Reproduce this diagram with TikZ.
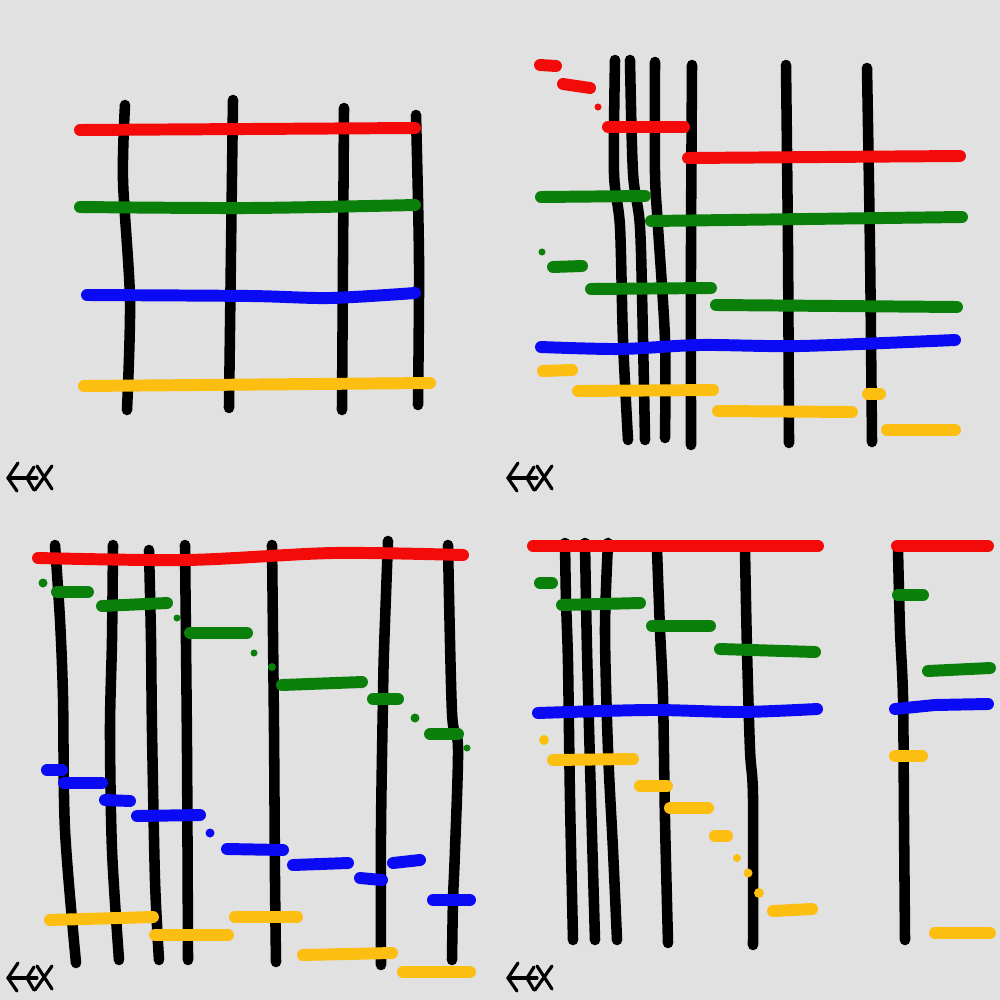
\documentclass[tikz,border=0pt]{standalone}
\usetikzlibrary{calc}
\definecolor{bgc}{HTML}{E1E1E1}
\definecolor{rdc}{HTML}{F50A0A}
\definecolor{grc}{HTML}{0A800A}
\definecolor{blc}{HTML}{0A0AF5}
\definecolor{ylc}{HTML}{FDBE12}
\tikzset{
  blk/.style={line width=3pt,line cap=round,line join=round,black},
  rd/.style={line width=3.4pt,line cap=round,line join=round,rdc},
  gr/.style={line width=3.4pt,line cap=round,line join=round,grc},
  bl/.style={line width=3.4pt,line cap=round,line join=round,blc},
  yl/.style={line width=3.4pt,line cap=round,line join=round,ylc},
  dt/.style={line width=2.2pt,line cap=round},
  logo/.style={line width=0.9pt,line cap=round,line join=round,black}
}
\newcommand\fexlogo[2]{%
  \begin{scope}[shift={(#1,#2)}]
    \draw[logo] (18,13) -- (8,28) -- (17,41);
    \draw[logo] (8,28) -- (37,28);
    \draw[logo] (34,17) -- (27,28) -- (34,40);
    \draw[logo] (37,16) -- (52,39);
    \draw[logo] (52,16) -- (35,40);
  \end{scope}}
\begin{document}
\begin{tikzpicture}[x=0.01cm,y=-0.01cm]
\fill[bgc] (0,0) rectangle (1000,1000);
\useasboundingbox (0,0) rectangle (1000,1000);

% ---------- Panel 1 ----------
\draw[blk] plot[smooth] coordinates {(125,105) (123,180) (130,300) (127,410)};
\draw[blk] plot[smooth] coordinates {(233,100) (231,250) (229,408)};
\draw[blk] plot[smooth] coordinates {(344,108) (343,260) (342,410)};
\draw[blk] plot[smooth] coordinates {(416,115) (419,260) (418,405)};
\draw[rd] (80,130) -- (415,128);
\draw[gr] plot[smooth] coordinates {(80,207) (250,208) (415,205)};
\draw[bl] plot[smooth] coordinates {(87,295) (250,296) (330,298) (415,293)};
\draw[yl] (84,386) -- (430,383);
\fexlogo{0}{450}

% ---------- Panel 2 ----------
\draw[blk] plot[smooth] coordinates {(615,60) (614,173) (620,227) (623,340) (628,440)};
\draw[blk] plot[smooth] coordinates {(630,60) (633,173) (640,227) (643,340) (645,440)};
\draw[blk] plot[smooth] coordinates {(655,62) (655,173) (658,227) (665,340) (665,438)};
\draw[blk] plot[smooth] coordinates {(692,65) (691,250) (691,445)};
\draw[blk] plot[smooth] coordinates {(786,65) (788,250) (789,443)};
\draw[blk] plot[smooth] coordinates {(867,68) (870,250) (872,442)};
\draw[rd] (540,65) -- (556,66);
\draw[rd] (563,84) -- (590,88);
\fill[rdc] (598,107) circle[radius=0.035cm];
\draw[rd] (608,127) -- (684,127);
\draw[rd] (688,158) -- (960,156);
\draw[gr] (541,197) -- (645,196);
\draw[gr] (651,221) -- (962,217);
\fill[grc] (542,252) circle[radius=0.035cm];
\draw[gr] (553,267) -- (582,266);
\draw[gr] (591,289) -- (711,288);
\draw[gr] (716,305) -- (957,307);
\draw[bl] plot[smooth] coordinates {(541,347) (620,349) (700,345) (800,346) (955,340)};
\draw[yl] (543,371) -- (572,370);
\draw[yl] (578,391) -- (713,390);
\draw[yl] (718,411) -- (852,412);
\draw[yl] (868,394) -- (880,394);
\draw[yl] (887,430) -- (955,430);
\fexlogo{500}{450}

% ---------- Panel 3 ----------
\draw[blk] plot[smooth] coordinates {(55,545) (60,620) (63,697) (65,830) (76,963)};
\draw[blk] plot[smooth] coordinates {(113,545) (112,640) (110,730) (112,850) (119,960)};
\draw[blk] plot[smooth] coordinates {(149,550) (151,640) (152,730) (155,880) (159,960)};
\draw[blk] plot[smooth] coordinates {(185,545) (187,750) (188,960)};
\draw[blk] plot[smooth] coordinates {(272,545) (274,730) (275,880) (276,962)};
\draw[blk] plot[smooth] coordinates {(388,541) (384,650) (383,697) (381,830) (381,965)};
\draw[blk] plot[smooth] coordinates {(448,545) (452,713) (458,747) (455,850) (453,900) (452,960)};
\draw[rd] plot[smooth] coordinates {(38,558) (187,560) (333,553) (463,555)};
\fill[grc] (43,583) circle[radius=0.045cm];
\draw[gr] (57,592) -- (88,592);
\draw[gr] (102,606) -- (167,603);
\fill[grc] (177,618) circle[radius=0.035cm];
\draw[gr] (190,633) -- (247,633);
\fill[grc] (254,653) circle[radius=0.035cm];
\fill[grc] (272,667) circle[radius=0.04cm];
\draw[gr] (282,685) -- (362,682);
\draw[gr] (373,699) -- (398,699);
\fill[grc] (415,718) circle[radius=0.045cm];
\draw[gr] (430,734) -- (458,734);
\fill[grc] (467,748) circle[radius=0.035cm];
\draw[bl] (47,770) -- (62,770);
\draw[bl] (64,783) -- (102,783);
\draw[bl] (105,800) -- (130,801);
\draw[bl] (137,816) -- (200,815);
\fill[blc] (210,833) circle[radius=0.045cm];
\draw[bl] (227,849) -- (283,850);
\draw[bl] (293,865) -- (348,863);
\draw[bl] (393,863) -- (420,860);
\draw[bl] (360,878) -- (382,880);
\draw[bl] (433,900) -- (470,900);
\draw[yl] (50,920) -- (153,917);
\draw[yl] (155,935) -- (228,935);
\draw[yl] (235,917) -- (297,917);
\draw[yl] (303,955) -- (392,953);
\draw[yl] (403,972) -- (470,972);
\fexlogo{0}{950}

% ---------- Panel 4 ----------
\draw[blk] plot[smooth] coordinates {(565,543) (566,600) (568,663) (570,800) (573,940)};
\draw[blk] plot[smooth] coordinates {(585,543) (587,650) (591,800) (595,940)};
\draw[blk] plot[smooth] coordinates {(608,543) (605,630) (608,750) (613,850) (617,940)};
\draw[blk] plot[smooth] coordinates {(657,550) (660,630) (663,697) (665,820) (668,943)};
\draw[blk] plot[smooth] coordinates {(745,550) (747,650) (750,750) (753,797) (753,945)};
\draw[blk] plot[smooth] coordinates {(898,550) (900,630) (903,697) (904,820) (905,940)};
\draw[rd] (533,546) -- (818,546);
\draw[rd] (897,546) -- (988,546);
\draw[gr] (540,583) -- (552,583);
\draw[gr] (562,605) -- (640,603);
\draw[gr] (652,626) -- (710,626);
\draw[gr] (720,649) -- (815,652);
\draw[gr] (898,595) -- (923,595);
\draw[gr] (928,671) -- (990,668);
\draw[bl] plot[smooth] coordinates {(538,713) (650,710) (740,712) (817,709)};
\draw[bl] (895,709) -- (935,705) -- (988,704);
\fill[ylc] (544,740) circle[radius=0.05cm];
\draw[yl] (553,760) -- (633,759);
\draw[yl] (640,786) -- (667,786);
\draw[yl] (670,808) -- (708,808);
\draw[yl] (715,836) -- (727,836);
\fill[ylc] (737,858) circle[radius=0.04cm];
\fill[ylc] (748,873) circle[radius=0.045cm];
\fill[ylc] (759,893) circle[radius=0.05cm];
\draw[yl] (773,911) -- (812,909);
\draw[yl] (895,756) -- (922,756);
\draw[yl] (935,933) -- (990,933);
\fexlogo{500}{950}
\end{tikzpicture}
\end{document}
